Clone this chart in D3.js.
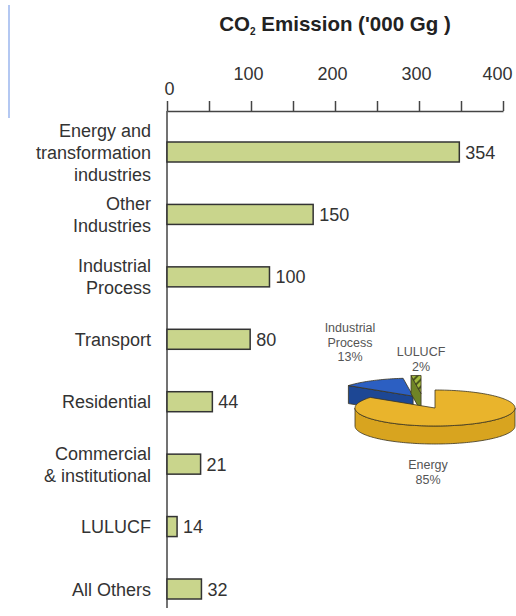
<!DOCTYPE html>
<html><head><meta charset="utf-8">
<script src="https://cdn.jsdelivr.net/npm/d3@7/dist/d3.min.js"></script>
<style>body{margin:0;background:#fff}svg{display:block}</style>
</head><body>
<svg id="chart" width="516" height="616"></svg>
<script>
// ---- data ----
const categories = ["Energy and\ntransformation\nindustries", "Other\nIndustries", "Industrial\nProcess", "Transport", "Residential", "Commercial\n& institutional", "LULUCF", "All Others"];
const valueLabels = [354, 150, 100, 80, 44, 21, 14, 32];          // printed values
const barLengths  = [348, 174, 122, 99, 54, 40, 12, 41];          // lengths as drawn against the axis
const axisTicks = [0, 50, 100, 150, 200, 250, 300, 350, 400];
const axisLabels = [0, 100, 200, 300, 400];
const pieNames = ["Energy", "Industrial\nProcess", "LULUCF"];
const pieShares = [85, 13, 2];
const titleMain = "CO", titleSub = "2", titleRest = " Emission ('000 Gg )";

// ---- setup ----
const svg = d3.select("#chart");
const FONT = "'Liberation Sans', Arial, Helvetica, sans-serif";
svg.append("rect").attr("width", 516).attr("height", 616).attr("fill", "#fff");
// scan artefact on the left edge
svg.append("line").attr("x1", 9).attr("x2", 9).attr("y1", 5).attr("y2", 118)
  .attr("stroke", "#b4c8f2").attr("stroke-width", 2);

const x = d3.scaleLinear().domain([0, 400]).range([167, 503]);
const y = d3.scalePoint().domain(categories).range([152, 589]);

// title
const t = svg.append("text").attr("x", 335).attr("y", 31).attr("text-anchor", "middle")
  .attr("font-family", FONT).attr("font-weight", "bold").attr("font-size", 20.5).attr("fill", "#222");
t.append("tspan").text(titleMain);
t.append("tspan").attr("font-size", 10).attr("dy", 4).text(titleSub);
t.append("tspan").attr("dy", -4).text(titleRest);

// top axis
const ax = svg.append("g").attr("transform", "translate(0,111)")
  .call(d3.axisTop(x).tickValues(axisTicks).tickSize(10).tickSizeOuter(0).tickPadding(21)
    .tickFormat(d => axisLabels.includes(d) ? d : ""));
ax.select(".domain").attr("stroke", "#444").attr("stroke-width", 1.5);
ax.selectAll(".tick line").attr("stroke", "#444").attr("stroke-width", 1.5);
ax.selectAll(".tick text").attr("font-family", FONT).attr("font-size", 18).attr("fill", "#333").attr("dx", -3);
ax.selectAll(".tick text").filter(d => d === 0).attr("y", -16).attr("dx", 2);
ax.selectAll(".tick text").filter(d => d === 400).attr("dx", -6);

// vertical axis line
svg.append("line").attr("x1", x(0)).attr("x2", x(0)).attr("y1", 111).attr("y2", 608)
  .attr("stroke", "#444").attr("stroke-width", 1.5);

// bars
const rows = categories.map((c, i) => ({c, len: barLengths[i], lab: valueLabels[i]}));
svg.selectAll("rect.bar").data(rows).join("rect").attr("class", "bar")
  .attr("x", x(0)).attr("y", d => y(d.c) - 10)
  .attr("width", d => x(d.len) - x(0)).attr("height", 20)
  .attr("fill", "#c9d58c").attr("stroke", "#333").attr("stroke-width", 1.5);

// value labels
svg.selectAll("text.val").data(rows).join("text").attr("class", "val")
  .attr("x", d => x(d.len) + 6).attr("y", d => y(d.c) + 6.5)
  .attr("font-family", FONT).attr("font-size", 18).attr("fill", "#333")
  .text(d => d.lab);

// category labels
rows.forEach(d => {
  const lines = d.c.split("\n");
  const g = svg.append("text").attr("text-anchor", "end").attr("font-family", FONT)
    .attr("font-size", 18).attr("fill", "#333");
  lines.forEach((l, k) => {
    g.append("tspan").attr("x", 151)
      .attr("y", y(d.c) + 6.5 - (lines.length - 1) * 11 + k * 22).text(l);
  });
});

// ---- 3D pie ----
const defs = svg.append("defs");
const pat = defs.append("pattern").attr("id", "hatch").attr("patternUnits", "userSpaceOnUse")
  .attr("width", 5).attr("height", 5).attr("patternTransform", "rotate(45)");
pat.append("rect").attr("width", 5).attr("height", 5).attr("fill", "#a3bb3e");
pat.append("rect").attr("width", 2).attr("height", 5).attr("fill", "#4d5a1c");

const pc = {cx: 435, cy: 408, rx: 80, ry: 18, depth: 18};
const explode = [0, 57, 66];
const explodeTurn = [0, 0.14, -0.15];
const topCol = ["#e9b42c", "#2c5fc2", "url(#hatch)"];
const sideCol = ["#d8a41f", "#1d4794", "#6f8426"];
const arcs = d3.pie().sort(null).value(d => d)(pieShares);
const line = d3.line();
const sample = (a0, a1) => { const n = Math.max(2, Math.ceil(Math.abs(a1 - a0) / 0.03)); return d3.range(n + 1).map(i => a0 + (a1 - a0) * i / n); };

function drawSlice(i) {
  const a = arcs[i];
  const dir = (a.startAngle + a.endAngle) / 2 + explodeTurn[i];
  const ox = explode[i] * Math.sin(dir), oy = -explode[i] * (pc.ry / pc.rx) * Math.cos(dir);
  const P = (ang, dz = 0) => [pc.cx + ox + pc.rx * Math.sin(ang), pc.cy + oy - pc.ry * Math.cos(ang) + dz];
  const C = (dz = 0) => [pc.cx + ox, pc.cy + oy + dz];
  const g = svg.append("g").attr("stroke", "#3a3320").attr("stroke-width", 0.8).attr("stroke-linejoin", "round");
  // cut faces
  [[a.startAngle, a.startAngle - Math.PI / 2], [a.endAngle, a.endAngle + Math.PI / 2]].forEach(([ang, nrm]) => {
    if (Math.cos(nrm) < -0.01) {
      g.append("path").attr("d", line([C(), P(ang), P(ang, pc.depth), C(pc.depth)]) + "Z").attr("fill", sideCol[i]);
    }
  });
  // outer wall (front half only)
  const lo = Math.max(a.startAngle, Math.PI / 2), hi = Math.min(a.endAngle, 3 * Math.PI / 2);
  if (hi > lo) {
    const s = sample(lo, hi);
    const pts = s.map(v => P(v)).concat(s.slice().reverse().map(v => P(v, pc.depth)));
    g.append("path").attr("d", line(pts) + "Z").attr("fill", sideCol[i]);
  }
  // top face
  const topPts = [C()].concat(sample(a.startAngle, a.endAngle).map(v => P(v)));
  g.append("path").attr("d", line(topPts) + "Z").attr("fill", topCol[i]);
}
[1, 2, 0].forEach(drawSlice);

// pie labels
const pieLab = [
  {x: 428, y: 469},
  {x: 350, y: 332},
  {x: 421, y: 356}
];
pieNames.forEach((n, i) => {
  const lines = n.split("\n").concat([pieShares[i] + "%"]);
  const g = svg.append("text").attr("text-anchor", "middle").attr("font-family", FONT)
    .attr("font-size", 12.5).attr("fill", "#555");
  lines.forEach((l, k) => g.append("tspan").attr("x", pieLab[i].x).attr("y", pieLab[i].y + k * 14.5).text(l));
});
</script>
</body></html>
